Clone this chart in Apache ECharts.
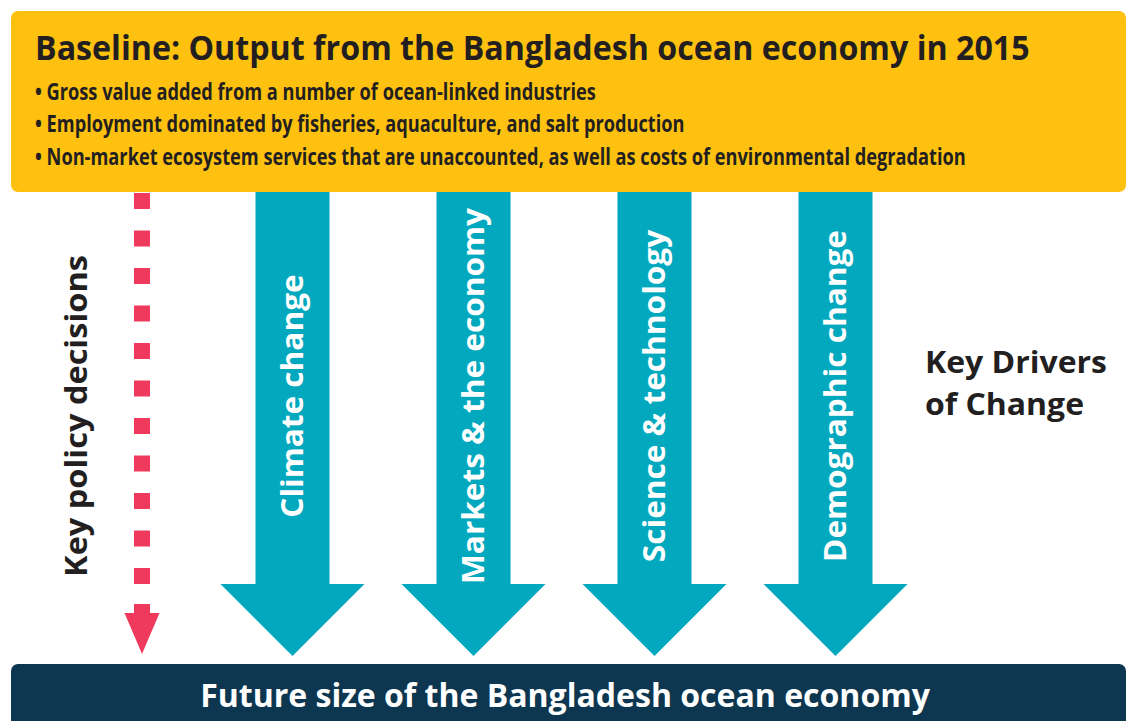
<!DOCTYPE html>
<html>
<head>
<meta charset="utf-8">
<script src="https://cdn.jsdelivr.net/npm/echarts@6/dist/echarts.min.js"></script>
<style>
html,body{margin:0;padding:0;background:#fff;}
#chart{width:1128px;height:721px;}
</style>
</head>
<body>
<div id="chart"></div>
<script>
// ---- content ----
const baselineTitle = 'Baseline: Output from the Bangladesh ocean economy in 2015';
const baselineBullets = [
  '\u2022 Gross value added from a number of ocean-linked industries',
  '\u2022 Employment dominated by fisheries, aquaculture, and salt production',
  '\u2022 Non-market ecosystem services that are unaccounted, as well as costs of environmental degradation'
];
const drivers = ['Climate change', 'Markets & the economy', 'Science & technology', 'Demographic change'];
const driverFrom = [0, 0, 0, 0];   // baseline stage
const driverTo = [1, 1, 1, 1];     // future stage
const policyLabel = ['Key policy decisions'];
const policyFrom = [0];
const policyTo = [1];
const driversHeading = ['Key Drivers', 'of Change'];
const outcomeTitle = 'Future size of the Bangladesh ocean economy';

// ---- styles ----
const YELLOW = '#FEC10F';
const CYAN = '#01A8BE';
const NAVY = '#0D3750';
const PINK = '#EF3A5D';
const INK = '#231F20';
const FONT = '"Open Sans", "Noto Sans", sans-serif';

const mctx = document.createElement('canvas').getContext('2d');
function fitScale(text, font, target) {
  mctx.font = font;
  return target / mctx.measureText(text).width;
}

const titleFont = 'bold 34px ' + FONT;
const bulletFont = 'bold 24px ' + FONT;
const labelFont = 'bold 31px ' + FONT;
const headFont = 'bold 31px ' + FONT;
const outFont = 'bold 32px ' + FONT;

const titleScale = fitScale(baselineTitle, titleFont, 995);
const bulletScale = fitScale(baselineBullets[2], bulletFont, 931);
const labelScale = fitScale(drivers[1], labelFont, 376);
const policyScale = fitScale(policyLabel[0], labelFont, 322);
const headScale = fitScale(driversHeading[0], headFont, 182);
const outScale = fitScale(outcomeTitle, outFont, 730);

const chart = echarts.init(document.getElementById('chart'), null, {renderer: 'svg'});

const driverData = drivers.map((d, i) => [i, driverFrom[i], driverTo[i]]);
const policyData = policyLabel.map((d, i) => [i, policyFrom[i], policyTo[i]]);

function renderDriver(params, api) {
  const c = api.value(0);
  const top = api.coord([c, api.value(1)]);
  const tip = api.coord([c, api.value(2)]);
  const x = top[0];
  const sh = 37, hh = 72, hl = 72;
  const hy = tip[1] - hl;
  const midY = (top[1] + hy) / 2 + 8;
  return {
    type: 'group',
    children: [
      {
        type: 'polygon',
        shape: {points: [[x - sh, top[1]], [x + sh, top[1]], [x + sh, hy], [x + hh, hy], [x, tip[1]], [x - hh, hy], [x - sh, hy]]},
        style: {fill: CYAN}
      },
      {
        type: 'text',
        x: x - 1, y: midY,
        rotation: Math.PI / 2,
        scaleX: labelScale,
        style: {text: drivers[c], font: labelFont, fill: '#fff', align: 'center', verticalAlign: 'middle'}
      }
    ]
  };
}

function renderPolicy(params, api) {
  const c = api.value(0);
  const top = api.coord([c, api.value(1)]);
  const tip = api.coord([c, api.value(2)]);
  const x = top[0];
  const hw = 8, hh = 17.5, hl = 41;
  const hy = tip[1] - hl;
  return {
    type: 'group',
    children: [
      {
        type: 'line',
        shape: {x1: x, y1: top[1] + 1, x2: x, y2: tip[1] - 70},
        style: {stroke: PINK, lineWidth: 16, lineDash: [16, 21.5], lineCap: 'butt'}
      },
      {
        type: 'polygon',
        shape: {points: [[x - hw, hy - 9], [x + hw, hy - 9], [x + hw, hy], [x + hh, hy], [x, tip[1]], [x - hh, hy], [x - hw, hy]]},
        style: {fill: PINK}
      }
    ]
  };
}

const option = {
  backgroundColor: '#ffffff',
  animation: false,
  grid: [
    {left: 202, right: 202, top: 192, bottom: 65},
    {left: 111, width: 62, top: 192, bottom: 67}
  ],
  xAxis: [
    {type: 'category', data: drivers, gridIndex: 0, show: false},
    {type: 'category', data: policyLabel, gridIndex: 1, show: false}
  ],
  yAxis: [
    {type: 'value', min: 0, max: 1, inverse: true, gridIndex: 0, show: false},
    {type: 'value', min: 0, max: 1, inverse: true, gridIndex: 1, show: false}
  ],
  series: [
    {type: 'custom', xAxisIndex: 0, yAxisIndex: 0, data: driverData, renderItem: renderDriver, silent: true},
    {type: 'custom', xAxisIndex: 1, yAxisIndex: 1, data: policyData, renderItem: renderPolicy, silent: true}
  ],
  graphic: [
    {type: 'rect', shape: {x: 11, y: 11, width: 1115, height: 181, r: 7}, style: {fill: YELLOW}, z: 10},
    {type: 'text', x: 35, y: 47, scaleX: titleScale, z: 11,
      style: {text: baselineTitle, font: titleFont, fill: INK, align: 'left', verticalAlign: 'middle'}},
    ...baselineBullets.map((b, i) => ({
      type: 'text', x: 35, y: 90 + i * 32.5, scaleX: bulletScale, z: 11,
      style: {text: b, font: bulletFont, fill: INK, align: 'left', verticalAlign: 'middle'}
    })),
    {type: 'text', x: 75, y: 416, rotation: Math.PI / 2, scaleX: policyScale, z: 11,
      style: {text: policyLabel[0], font: labelFont, fill: INK, align: 'center', verticalAlign: 'middle'}},
    ...driversHeading.map((t, i) => ({
      type: 'text', x: 925, y: 361 + i * 42, scaleX: headScale, z: 11,
      style: {text: t, font: headFont, fill: INK, align: 'left', verticalAlign: 'middle'}
    })),
    {type: 'rect', shape: {x: 11, y: 664, width: 1115, height: 70, r: 7}, style: {fill: NAVY}, z: 10},
    {type: 'text', x: 565, y: 695, scaleX: outScale, z: 11,
      style: {text: outcomeTitle, font: outFont, fill: '#fff', align: 'center', verticalAlign: 'middle'}}
  ]
};
chart.setOption(option);
</script>
</body>
</html>
